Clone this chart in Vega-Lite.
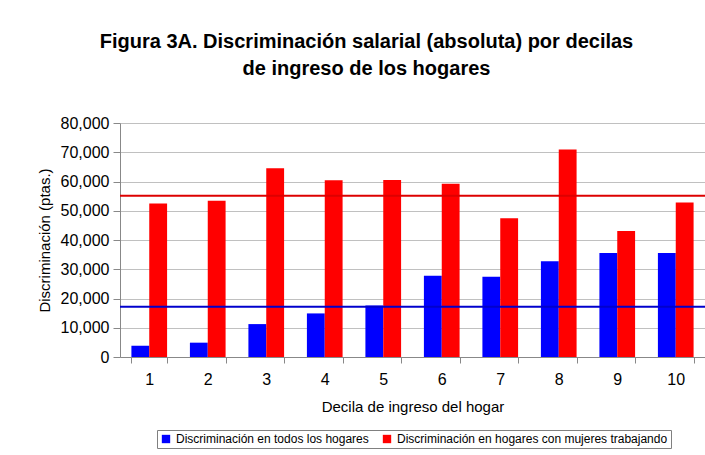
{
  "$schema": "https://vega.github.io/schema/vega-lite/v6.json",
  "autosize": {"type": "none"},
  "width": 585,
  "height": 234,
  "padding": {"left": 120, "top": 123, "right": 0, "bottom": 98},
  "background": "white",
  "config": {
    "font": "Liberation Sans",
    "view": {"stroke": null},
    "axis": {"labelColor": "black", "titleColor": "black", "titleFontWeight": "normal", "domainColor": "#888888", "tickColor": "#888888", "gridColor": "#c0c0c0"}
  },
  "title": {
    "text": ["Figura 3A. Discriminación salarial (absoluta) por decilas", "de ingreso de los hogares"],
    "font": "Liberation Sans",
    "fontSize": 20,
    "fontWeight": "bold",
    "lineHeight": 27,
    "anchor": "middle",
    "frame": "group",
    "dx": -46,
    "offset": 36,
    "color": "black"
  },
  "datasets": {
    "barras": [
      {"decila": "1", "serie": "Discriminación en todos los hogares", "valor": 3850},
      {"decila": "1", "serie": "Discriminación en hogares con mujeres trabajando", "valor": 52500},
      {"decila": "2", "serie": "Discriminación en todos los hogares", "valor": 4900},
      {"decila": "2", "serie": "Discriminación en hogares con mujeres trabajando", "valor": 53400},
      {"decila": "3", "serie": "Discriminación en todos los hogares", "valor": 11250},
      {"decila": "3", "serie": "Discriminación en hogares con mujeres trabajando", "valor": 64500},
      {"decila": "4", "serie": "Discriminación en todos los hogares", "valor": 14900},
      {"decila": "4", "serie": "Discriminación en hogares con mujeres trabajando", "valor": 60400},
      {"decila": "5", "serie": "Discriminación en todos los hogares", "valor": 17600},
      {"decila": "5", "serie": "Discriminación en hogares con mujeres trabajando", "valor": 60550},
      {"decila": "6", "serie": "Discriminación en todos los hogares", "valor": 27800},
      {"decila": "6", "serie": "Discriminación en hogares con mujeres trabajando", "valor": 59200},
      {"decila": "7", "serie": "Discriminación en todos los hogares", "valor": 27400},
      {"decila": "7", "serie": "Discriminación en hogares con mujeres trabajando", "valor": 47400},
      {"decila": "8", "serie": "Discriminación en todos los hogares", "valor": 32700},
      {"decila": "8", "serie": "Discriminación en hogares con mujeres trabajando", "valor": 70900},
      {"decila": "9", "serie": "Discriminación en todos los hogares", "valor": 35550},
      {"decila": "9", "serie": "Discriminación en hogares con mujeres trabajando", "valor": 43050},
      {"decila": "10", "serie": "Discriminación en todos los hogares", "valor": 35550},
      {"decila": "10", "serie": "Discriminación en hogares con mujeres trabajando", "valor": 52850}
    ],
    "medias": [
      {"serie": "Discriminación en todos los hogares", "media": 17150},
      {"serie": "Discriminación en hogares con mujeres trabajando", "media": 55100}
    ]
  },
  "layer": [
    {
      "data": {"name": "barras"},
      "mark": {"type": "bar"},
      "encoding": {
        "x": {
          "field": "decila",
          "type": "ordinal",
          "sort": ["1", "2", "3", "4", "5", "6", "7", "8", "9", "10"],
          "scale": {"paddingInner": 0.39, "paddingOuter": 0.195},
          "axis": {
            "title": "Decila de ingreso del hogar",
            "titleFontSize": 15,
            "titlePadding": 12,
            "labelFontSize": 16,
            "labelAngle": 0,
            "labelPadding": 8,
            "tickBand": "extent",
            "tickSize": 6,
            "grid": false
          }
        },
        "xOffset": {
          "field": "serie",
          "type": "nominal",
          "sort": ["Discriminación en todos los hogares", "Discriminación en hogares con mujeres trabajando"],
          "scale": {"paddingInner": 0, "paddingOuter": 0}
        },
        "y": {
          "field": "valor",
          "type": "quantitative",
          "scale": {"domain": [0, 80000]},
          "axis": {
            "title": "Discriminación (ptas.)",
            "titleFontSize": 15,
            "titlePadding": 8,
            "labelFontSize": 16,
            "labelPadding": 4,
            "tickCount": 8,
            "format": ",.0f",
            "tickSize": 7,
            "grid": true
          }
        },
        "color": {
          "field": "serie",
          "type": "nominal",
          "sort": ["Discriminación en todos los hogares", "Discriminación en hogares con mujeres trabajando"],
          "scale": {"range": ["#0000FF", "#FF0000"]},
          "legend": {
            "title": null,
            "orient": "none",
            "legendX": 37,
            "legendY": 307,
            "direction": "horizontal",
            "labelFontSize": 12,
            "labelLimit": 0,
            "labelColor": "black",
            "symbolType": "square",
            "symbolSize": 70,
            "symbolStrokeWidth": 0,
            "symbolOpacity": 1,
            "columnPadding": 12,
            "labelOffset": 4,
            "strokeColor": "#808080",
            "padding": 3
          }
        }
      }
    },
    {
      "data": {"name": "medias"},
      "transform": [{"filter": "datum.serie == 'Discriminación en todos los hogares'"}],
      "mark": {"type": "rule", "color": "#0000CC", "strokeWidth": 2},
      "encoding": {"y": {"field": "media", "type": "quantitative"}}
    },
    {
      "data": {"name": "medias"},
      "transform": [{"filter": "datum.serie == 'Discriminación en hogares con mujeres trabajando'"}],
      "mark": {"type": "rule", "color": "#DD0000", "strokeWidth": 2},
      "encoding": {"y": {"field": "media", "type": "quantitative"}}
    }
  ]
}
